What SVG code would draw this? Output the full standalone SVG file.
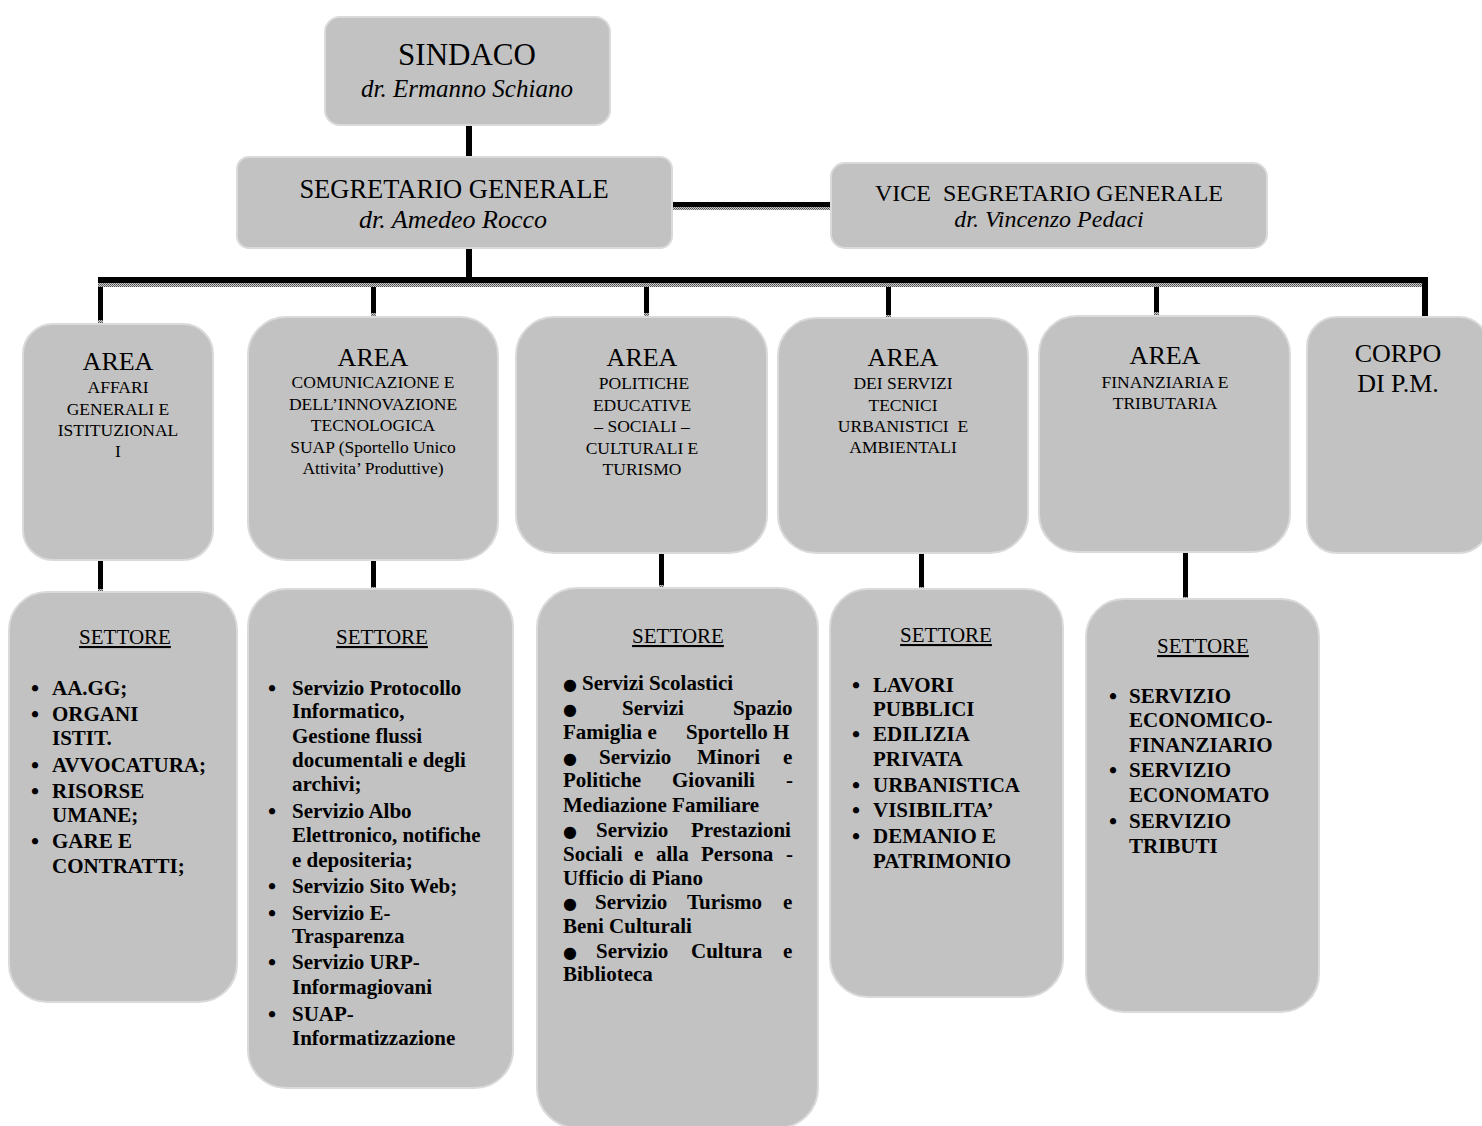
<svg xmlns="http://www.w3.org/2000/svg" width="1482" height="1126" viewBox="0 0 1482 1126">
<defs>
<pattern id="dots" width="2" height="2" patternUnits="userSpaceOnUse"><rect width="2" height="2" fill="#c8c8c8"/><rect width="1" height="1" fill="#505050"/><rect x="1" y="1" width="1" height="1" fill="#707070"/></pattern>
<style>
.box{fill:#c2c2c2;stroke:#dadada;stroke-width:2}
.t{font-family:"Liberation Serif","Times New Roman",serif;fill:#000}
.c{text-anchor:middle}
.big{font-size:26px}
.sub{font-size:17.5px}
.it{font-style:italic}
.set{font-size:21px;text-decoration:underline}
.li{font-size:21px;font-weight:bold}
.b{font-size:23px}
.bb{font-size:16px;font-family:"DejaVu Sans",sans-serif}
.blk{fill:#000}
.gr{fill:url(#dots)}
</style>
</defs>
<rect width="1482" height="1126" fill="#fff"/>
<g id="connectors">
<rect class="blk" x="466" y="125" width="6" height="32"/><rect class="gr" x="466" y="157" width="6" height="3"/>
<rect class="blk" x="466" y="248" width="6" height="30"/>
<rect class="blk" x="672" y="202" width="159" height="5"/><rect class="gr" x="672" y="207" width="159" height="3"/>
<rect class="blk" x="98" y="277" width="1330" height="6"/><rect class="gr" x="98" y="283" width="1330" height="4"/>
<rect class="blk" x="98" y="287" width="5" height="33"/><rect class="gr" x="98" y="320" width="5" height="4"/>
<rect class="blk" x="371" y="287" width="5" height="26"/><rect class="gr" x="371" y="313" width="5" height="4"/>
<rect class="blk" x="644" y="287" width="5" height="26"/><rect class="gr" x="644" y="313" width="5" height="4"/>
<rect class="blk" x="886" y="287" width="5" height="28"/><rect class="gr" x="886" y="315" width="5" height="4"/>
<rect class="blk" x="1154" y="287" width="5" height="25"/><rect class="gr" x="1154" y="312" width="5" height="4"/>
<rect class="blk" x="1422" y="283" width="6" height="36"/><rect class="gr" x="1422" y="319" width="6" height="4"/>
<rect class="blk" x="98" y="553" width="5" height="36"/><rect class="gr" x="98" y="589" width="5" height="3"/>
<rect class="blk" x="371" y="560" width="5" height="27"/><rect class="gr" x="371" y="587" width="5" height="3"/>
<rect class="blk" x="659" y="553" width="5" height="32"/><rect class="gr" x="659" y="585" width="5" height="3"/>
<rect class="blk" x="919" y="553" width="5" height="34"/><rect class="gr" x="919" y="587" width="5" height="3"/>
<rect class="blk" x="1183" y="552" width="5" height="45"/><rect class="gr" x="1183" y="597" width="5" height="3"/>
</g>
<g id="sindaco">
<rect class="box" x="325" y="17" width="285" height="108" rx="15"/>
<text class="t c" x="467" y="65" font-size="31">SINDACO</text>
<text class="t c it" x="467" y="97" font-size="25">dr. Ermanno Schiano</text>
</g>
<g id="segretario">
<rect class="box" x="237" y="157" width="435" height="91" rx="12"/>
<text class="t c" x="454" y="198" font-size="26.5">SEGRETARIO GENERALE</text>
<text class="t c it" x="453" y="228" font-size="26">dr. Amedeo Rocco</text>
</g>
<g id="vice">
<rect class="box" x="831" y="163" width="436" height="85" rx="14"/>
<text class="t c" x="1049" y="201" font-size="24" style="white-space:pre">VICE  SEGRETARIO GENERALE</text>
<text class="t c it" x="1049" y="227" font-size="24">dr. Vincenzo Pedaci</text>
</g>
<g id="area1">
<rect class="box" x="23" y="324" width="190" height="236" rx="30"/>
<text class="t c big" x="118" y="370">AREA</text>
<text class="t c sub" x="118"><tspan x="118" y="393">AFFARI</tspan><tspan x="118" y="415">GENERALI E</tspan><tspan x="118" y="436">ISTITUZIONAL</tspan><tspan x="118" y="457">I</tspan></text>
</g>
<g id="area2">
<rect class="box" x="248" y="317" width="250" height="243" rx="38"/>
<text class="t c big" x="373" y="366">AREA</text>
<text class="t c sub" x="373"><tspan x="373" y="388">COMUNICAZIONE E</tspan><tspan x="373" y="410">DELL’INNOVAZIONE</tspan><tspan x="373" y="431">TECNOLOGICA</tspan><tspan x="373" y="453">SUAP (Sportello Unico</tspan><tspan x="373" y="474">Attivita’ Produttive)</tspan></text>
</g>
<g id="area3">
<rect class="box" x="516" y="317" width="251" height="236" rx="38"/>
<text class="t c big" x="642" y="366">AREA</text>
<text class="t c sub" x="642"><tspan x="644" y="389">POLITICHE</tspan><tspan x="642" y="411">EDUCATIVE</tspan><tspan x="642" y="432">– SOCIALI –</tspan><tspan x="642" y="454">CULTURALI E</tspan><tspan x="642" y="475">TURISMO</tspan></text>
</g>
<g id="area4">
<rect class="box" x="778" y="318" width="250" height="235" rx="38"/>
<text class="t c big" x="903" y="366">AREA</text>
<text class="t c sub" x="903"><tspan x="903" y="389">DEI SERVIZI</tspan><tspan x="903" y="411">TECNICI</tspan><tspan x="903" y="432" style="white-space:pre">URBANISTICI  E</tspan><tspan x="903" y="453">AMBIENTALI</tspan></text>
</g>
<g id="area5">
<rect class="box" x="1039" y="316" width="251" height="236" rx="38"/>
<text class="t c big" x="1165" y="364">AREA</text>
<text class="t c sub" x="1165"><tspan x="1165" y="388">FINANZIARIA E</tspan><tspan x="1165" y="409">TRIBUTARIA</tspan></text>
</g>
<g id="area6">
<rect class="box" x="1307" y="317" width="182" height="236" rx="30"/>
<text class="t c big" x="1398"><tspan x="1398" y="362">CORPO</tspan><tspan x="1398" y="392">DI P.M.</tspan></text>
</g>
<g id="settore1">
<rect class="box" x="9" y="592" width="228" height="410" rx="38"/>
<text class="t c set" x="125" y="644">SETTORE</text>
<text class="t li"><tspan class="b" x="31" y="696">•</tspan><tspan x="52" y="695">AA.GG;</tspan><tspan class="b" x="31" y="722">•</tspan><tspan x="52" y="721">ORGANI</tspan><tspan x="52" y="745">ISTIT.</tspan><tspan class="b" x="31" y="773">•</tspan><tspan x="52" y="772">AVVOCATURA;</tspan><tspan class="b" x="31" y="799">•</tspan><tspan x="52" y="798">RISORSE</tspan><tspan x="52" y="822">UMANE;</tspan><tspan class="b" x="31" y="849">•</tspan><tspan x="52" y="848">GARE E</tspan><tspan x="52" y="873">CONTRATTI;</tspan></text>
</g>
<g id="settore2">
<rect class="box" x="248" y="589" width="265" height="499" rx="38"/>
<text class="t c set" x="382" y="644">SETTORE</text>
<text class="t li"><tspan class="b" x="268" y="696">•</tspan><tspan x="292" y="695">Servizio Protocollo</tspan><tspan x="292" y="718">Informatico,</tspan><tspan x="292" y="743">Gestione flussi</tspan><tspan x="292" y="767">documentali e degli</tspan><tspan x="292" y="791">archivi;</tspan><tspan class="b" x="268" y="819">•</tspan><tspan x="292" y="818">Servizio Albo</tspan><tspan x="292" y="842">Elettronico, notifiche</tspan><tspan x="292" y="867">e depositeria;</tspan><tspan class="b" x="268" y="894">•</tspan><tspan x="292" y="893">Servizio Sito Web;</tspan><tspan class="b" x="268" y="921">•</tspan><tspan x="292" y="920">Servizio E-</tspan><tspan x="292" y="943">Trasparenza</tspan><tspan class="b" x="268" y="970">•</tspan><tspan x="292" y="969">Servizio URP-</tspan><tspan x="292" y="994">Informagiovani</tspan><tspan class="b" x="268" y="1022">•</tspan><tspan x="292" y="1021">SUAP-</tspan><tspan x="292" y="1045">Informatizzazione</tspan></text>
</g>
<g id="settore3">
<rect class="box" x="537" y="588" width="281" height="540" rx="40"/>
<text class="t c set" x="678" y="643">SETTORE</text>
<g class="t li">
<text y="690"><tspan class="bb" x="563">●</tspan><tspan x="582">Servizi Scolastici</tspan></text>
<text y="715"><tspan class="bb" x="563">●</tspan><tspan x="622">Servizi</tspan><tspan x="733">Spazio</tspan></text>
<text y="739"><tspan x="563">Famiglia e</tspan><tspan x="686">Sportello H</tspan></text>
<text y="764"><tspan class="bb" x="563">●</tspan><tspan x="599">Servizio</tspan><tspan x="697">Minori</tspan><tspan x="783">e</tspan></text>
<text y="787"><tspan x="563">Politiche</tspan><tspan x="672">Giovanili</tspan><tspan x="786">-</tspan></text>
<text y="812" x="563">Mediazione Familiare</text>
<text y="837"><tspan class="bb" x="563">●</tspan><tspan x="596">Servizio</tspan><tspan x="691">Prestazioni</tspan></text>
<text y="861"><tspan x="563">Sociali</tspan><tspan x="634">e</tspan><tspan x="656">alla</tspan><tspan x="701">Persona</tspan><tspan x="786">-</tspan></text>
<text y="885" x="563">Ufficio di Piano</text>
<text y="909"><tspan class="bb" x="563">●</tspan><tspan x="595">Servizio</tspan><tspan x="687">Turismo</tspan><tspan x="783">e</tspan></text>
<text y="933" x="563">Beni Culturali</text>
<text y="958"><tspan class="bb" x="563">●</tspan><tspan x="596">Servizio</tspan><tspan x="691">Cultura</tspan><tspan x="783">e</tspan></text>
<text y="981" x="563">Biblioteca</text>
</g>
</g>
<g id="settore4">
<rect class="box" x="830" y="589" width="233" height="408" rx="38"/>
<text class="t c set" x="946" y="642">SETTORE</text>
<text class="t li"><tspan class="b" x="852" y="693">•</tspan><tspan x="873" y="692">LAVORI</tspan><tspan x="873" y="716">PUBBLICI</tspan><tspan class="b" x="852" y="742">•</tspan><tspan x="873" y="741">EDILIZIA</tspan><tspan x="873" y="766">PRIVATA</tspan><tspan class="b" x="852" y="793">•</tspan><tspan x="873" y="792">URBANISTICA</tspan><tspan class="b" x="852" y="818">•</tspan><tspan x="873" y="817">VISIBILITA’</tspan><tspan class="b" x="852" y="844">•</tspan><tspan x="873" y="843">DEMANIO E</tspan><tspan x="873" y="868">PATRIMONIO</tspan></text>
</g>
<g id="settore5">
<rect class="box" x="1086" y="599" width="233" height="413" rx="38"/>
<text class="t c set" x="1203" y="653">SETTORE</text>
<text class="t li"><tspan class="b" x="1109" y="704">•</tspan><tspan x="1129" y="703">SERVIZIO</tspan><tspan x="1129" y="727">ECONOMICO-</tspan><tspan x="1129" y="752">FINANZIARIO</tspan><tspan class="b" x="1109" y="778">•</tspan><tspan x="1129" y="777">SERVIZIO</tspan><tspan x="1129" y="802">ECONOMATO</tspan><tspan class="b" x="1109" y="829">•</tspan><tspan x="1129" y="828">SERVIZIO</tspan><tspan x="1129" y="853">TRIBUTI</tspan></text>
</g>
</svg>
